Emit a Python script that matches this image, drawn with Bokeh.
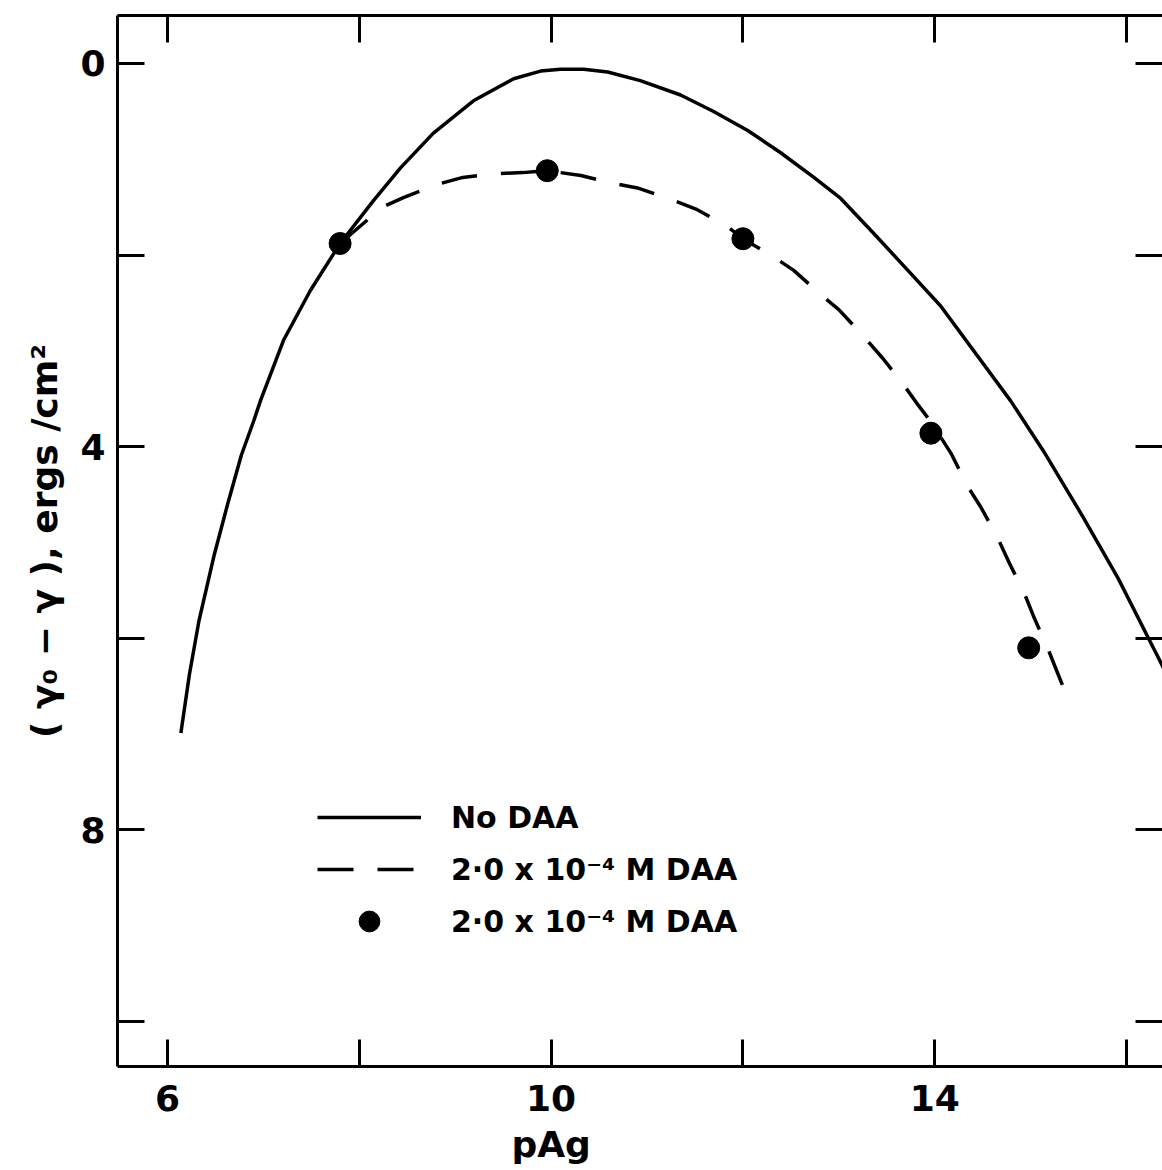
from bokeh.plotting import figure
from bokeh.models import Range1d, LinearAxis, FixedTicker, Legend, LegendItem
from bokeh.embed import file_html
from bokeh.resources import INLINE

# ---- data ----
solid_x = [6.14, 6.23, 6.33, 6.49, 6.63, 6.77, 6.90, 6.97, 7.21, 7.49, 7.80, 8.15, 8.43,
           8.77, 9.19, 9.61, 9.89, 10.10, 10.34, 10.59, 10.93, 11.35, 11.69, 12.05, 12.39,
           12.74, 13.02, 13.36, 13.72, 14.06, 14.79, 15.13, 15.55, 15.91, 16.32, 16.40]
solid_y = [6.99, 6.37, 5.81, 5.12, 4.59, 4.09, 3.73, 3.52, 2.89, 2.37, 1.88, 1.43, 1.09,
           0.73, 0.39, 0.16, 0.08, 0.06, 0.06, 0.09, 0.18, 0.33, 0.50, 0.70, 0.93,
           1.19, 1.41, 1.77, 2.16, 2.53, 3.52, 4.04, 4.74, 5.37, 6.18, 6.34]

dash_x = [7.80, 8.24, 8.46, 8.82, 9.08, 9.44, 9.70, 9.96, 10.31, 10.64, 10.90, 11.25,
          11.51, 11.82, 12.00, 12.29, 12.53, 12.83, 13.00, 13.26, 13.46, 13.68, 13.83,
          13.96, 14.17, 14.34, 14.48, 14.66, 14.78, 14.93, 15.03, 15.18, 15.28, 15.42]
dash_y = [1.88, 1.50, 1.40, 1.26, 1.19, 1.15, 1.14, 1.12, 1.17, 1.25, 1.30, 1.42,
          1.52, 1.69, 1.83, 2.00, 2.16, 2.43, 2.57, 2.85, 3.08, 3.36, 3.57,
          3.74, 4.07, 4.41, 4.63, 4.96, 5.22, 5.52, 5.77, 6.11, 6.36, 6.71]

pts_x = [7.80, 9.96, 12.00, 13.96, 14.98]
pts_y = [1.88, 1.12, 1.83, 3.86, 6.10]

x_labelled_ticks = [6, 10, 14]
x_plain_ticks = [8, 12, 16]
x_all_ticks = [6, 8, 10, 12, 14, 16]
y_labelled_ticks = [0, 4, 8]
y_plain_ticks = [2, 6, 10]
y_all_ticks = [0, 2, 4, 6, 8, 10]

legend_labels = ["No DAA", "2·0 x 10⁻⁴ M DAA", "2·0 x 10⁻⁴ M DAA"]
x_title = "pAg"
y_title = "( γ₀ − γ ), ergs /cm²"

FONT = "DejaVu Sans"

p = figure(width=1162, height=1168,
           x_range=Range1d(5.479, 16.375), y_range=Range1d(10.47, -0.50),
           output_backend="svg", toolbar_location=None,
           x_axis_location=None, y_axis_location=None,
           min_border_left=117, min_border_right=0,
           min_border_top=15, min_border_bottom=102)
p.grid.visible = False
p.outline_line_color = None
p.background_fill_color = "white"
p.border_fill_color = "white"


def style(ax, size="36px"):
    ax.axis_line_width = 3
    ax.axis_line_color = "black"
    for pre in ("major", "minor"):
        setattr(ax, pre + "_tick_in", 27)
        setattr(ax, pre + "_tick_out", 0)
        setattr(ax, pre + "_tick_line_width", 3)
        setattr(ax, pre + "_tick_line_color", "black")
    ax.major_label_text_font = FONT
    ax.major_label_text_font_style = "bold"
    ax.major_label_text_font_size = size
    ax.major_label_text_color = "black"


bottom = LinearAxis(ticker=FixedTicker(ticks=x_labelled_ticks, minor_ticks=x_plain_ticks))
style(bottom)
bottom.major_label_standoff = 18
p.add_layout(bottom, "below")

title_axis = LinearAxis(ticker=FixedTicker(ticks=[10]), major_label_overrides={10: x_title})
style(title_axis)
title_axis.axis_line_color = None
title_axis.major_tick_line_color = None
title_axis.minor_tick_line_color = None
title_axis.major_tick_in = 0
title_axis.major_label_standoff = 10
p.add_layout(title_axis, "below")

left = LinearAxis(ticker=FixedTicker(ticks=y_labelled_ticks, minor_ticks=y_plain_ticks))
style(left)
left.major_label_standoff = 12
left.axis_label = y_title
left.axis_label_text_font = FONT
left.axis_label_text_font_style = "bold"
left.axis_label_text_font_size = "36px"
left.axis_label_text_color = "black"
left.axis_label_standoff = 12
p.add_layout(left, "left")

top = LinearAxis(ticker=FixedTicker(ticks=[], minor_ticks=x_all_ticks))
style(top)
top.major_label_standoff = 0
p.add_layout(top, "above")

right = LinearAxis(ticker=FixedTicker(ticks=[], minor_ticks=y_all_ticks))
style(right)
right.major_label_standoff = 0
right.axis_line_color = None
p.add_layout(right, "right")

solid = p.line(solid_x, solid_y, line_width=3.5, line_color="black")
dashed = p.line(dash_x, dash_y, line_width=3.5, line_color="black", line_dash="36 24")
dots = p.scatter(pts_x, pts_y, size=22, fill_color="black", line_color="black")

legend = Legend(items=[LegendItem(label=legend_labels[0], renderers=[solid]),
                       LegendItem(label=legend_labels[1], renderers=[dashed]),
                       LegendItem(label=legend_labels[2], renderers=[dots])],
                location=(200, 119), glyph_width=104, glyph_height=52, label_height=52,
                spacing=0, label_standoff=30, padding=0, margin=0,
                border_line_color=None, background_fill_alpha=0,
                label_text_font=FONT, label_text_font_style="bold",
                label_text_font_size="30px", label_text_color="black")
p.add_layout(legend)

open("out.html", "w").write(file_html(p, INLINE))
